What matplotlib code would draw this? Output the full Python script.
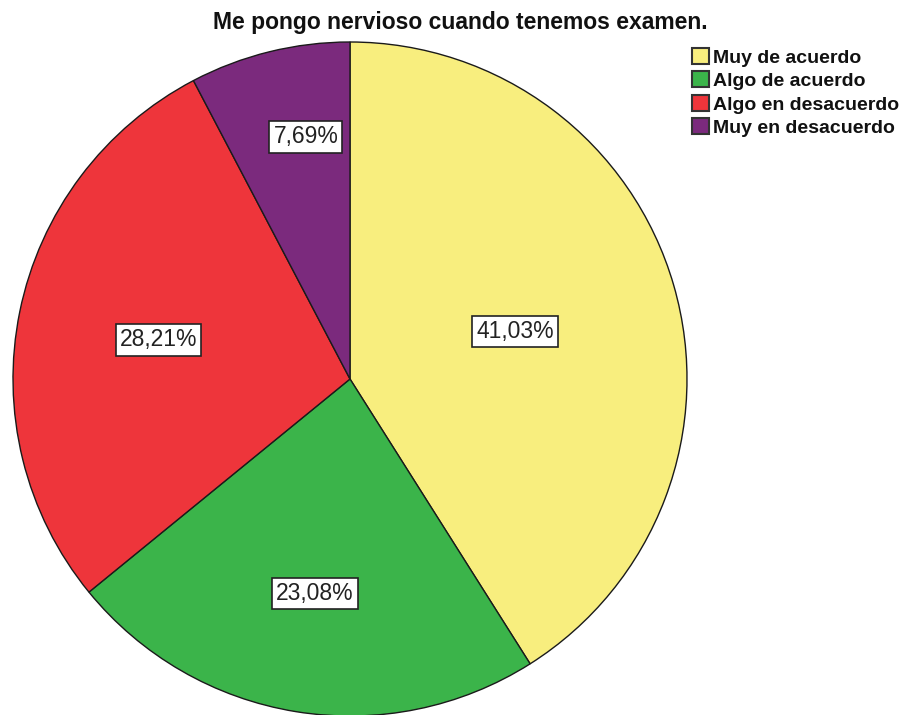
import numpy as np
import matplotlib.pyplot as plt
from matplotlib.patches import Patch

# Respuestas a la pregunta
categorias = ['Muy de acuerdo', 'Algo de acuerdo', 'Algo en desacuerdo', 'Muy en desacuerdo']
porcentajes = [41.03, 23.08, 28.21, 7.69]
colores = ['#F8EE7E', '#3BB44A', '#EE353B', '#7B2A7D']
# distancia relativa de cada etiqueta al centro
dist_etiqueta = [0.51, 0.645, 0.58, 0.73]

W, H = 905, 715
fig = plt.figure(figsize=(W / 100, H / 100), dpi=100)
ax = fig.add_axes([0, 0, 1, 1])

cx, cy, r = 350, H - 379, 337
wedges, _ = ax.pie(porcentajes, colors=colores, startangle=90, counterclock=False,
                   center=(cx, cy), radius=r, frame=True,
                   wedgeprops=dict(edgecolor='#1a1a1a', linewidth=1.0))
ax.set_xlim(0, W)
ax.set_ylim(0, H)
ax.set_aspect('equal')
ax.axis('off')

for i, (w, p, d) in enumerate(zip(wedges, porcentajes, dist_etiqueta)):
    ang = np.deg2rad((w.theta1 + w.theta2) / 2)
    if i == 3:
        ang -= np.deg2rad(3.5)  # la etiqueta pequeña queda algo más cerca del borde derecho
    x = cx + r * d * np.cos(ang)
    y = cy + r * d * np.sin(ang)
    ax.text(x, y, f'{p:.2f}%'.replace('.', ','), ha='center', va='center',
            fontsize=16.5, family='Liberation Sans', color='#222222',
            bbox=dict(boxstyle='square,pad=0.18', fc='white', ec='#222222', lw=1.2))

ax.text(460, H - 22, 'Me pongo nervioso cuando tenemos examen.', ha='center', va='center',
        fontsize=16.5, family='Liberation Sans', fontweight='bold', color='#111111')

handles = [Patch(facecolor=c, edgecolor='#333333', linewidth=1.5) for c in colores]
leg = ax.legend(handles, categorias, loc='upper left', bbox_to_anchor=(692 / W, 1 - 48 / H),
                frameon=False, prop=dict(family='Liberation Sans', weight='bold', size=14.0),
                handlelength=0.87, handleheight=0.87, handletextpad=0.2,
                labelspacing=0.25, borderpad=0, borderaxespad=0)
for t in leg.get_texts():
    t.set_color('#111111')

fig.savefig('out.png', dpi=100)
